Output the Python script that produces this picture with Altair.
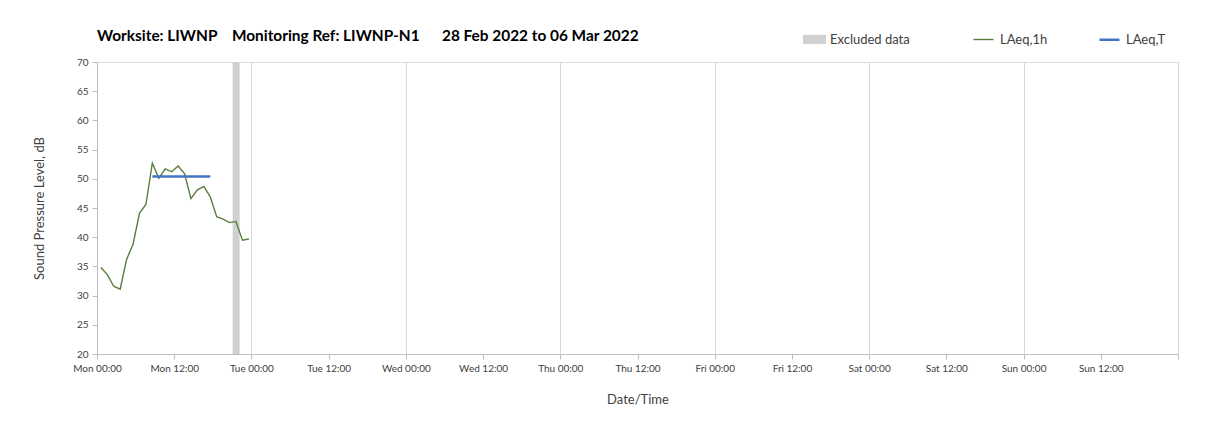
import altair as alt
import pandas as pd
from datetime import datetime, timedelta

FONT = "Lato"

# ---- data ----
hour_times = [
    "2022-02-28T00:36:00", "2022-02-28T01:36:00", "2022-02-28T02:36:00", "2022-02-28T03:36:00",
    "2022-02-28T04:36:00", "2022-02-28T05:36:00", "2022-02-28T06:36:00", "2022-02-28T07:36:00",
    "2022-02-28T08:36:00", "2022-02-28T09:36:00", "2022-02-28T10:36:00", "2022-02-28T11:36:00",
    "2022-02-28T12:36:00", "2022-02-28T13:36:00", "2022-02-28T14:36:00", "2022-02-28T15:36:00",
    "2022-02-28T16:36:00", "2022-02-28T17:36:00", "2022-02-28T18:36:00", "2022-02-28T19:36:00",
    "2022-02-28T20:36:00", "2022-02-28T21:36:00", "2022-02-28T22:36:00", "2022-02-28T23:36:00",
]
laeq_1h = [34.8, 33.6, 31.6, 31.1, 36.2, 38.8, 44.1, 45.6, 52.7, 50.1, 51.7, 51.2,
           52.2, 50.9, 46.6, 48.1, 48.7, 46.9, 43.5, 43.1, 42.5, 42.7, 39.5, 39.7]
laeq_t_times = ["2022-02-28T08:36:00", "2022-02-28T17:36:00"]
laeq_t = [50.4, 50.4]
excluded_start = ["2022-02-28T21:05:00"]
excluded_end = ["2022-02-28T22:10:00"]
band_series = ["Excluded data"]
band_colors = ["#D0D0D0"]
line_series = ["LAeq,1h", "LAeq,T"]
line_colors = ["#5B7E3C", "#4472C4"]
line_widths = [1.4, 2.5]
y_ticks = [20, 25, 30, 35, 40, 45, 50, 55, 60, 65, 70]
title_text = ("Worksite: LIWNP\u00a0\u00a0\u00a0\u00a0Monitoring Ref: LIWNP-N1"
              "\u00a0\u00a0\u00a0\u00a0\u00a0\u00a028 Feb 2022 to 06 Mar 2022")

df_1h = pd.DataFrame({"time": hour_times, "level": laeq_1h, "series": "LAeq,1h"})
df_t = pd.DataFrame({"time": laeq_t_times, "level": laeq_t, "series": "LAeq,T"})
df_ex = pd.DataFrame({"start": excluded_start, "end": excluded_end, "series": band_series})

start = datetime(2022, 2, 28)
tick_vals = []
for i in range(15):
    d = start + timedelta(hours=12 * i)
    tick_vals.append(alt.DateTime(year=d.year, month=d.month, date=d.day, hours=d.hour))

x_scale = alt.Scale(domain=[alt.DateTime(year=2022, month=2, date=28, hours=0),
                            alt.DateTime(year=2022, month=3, date=7, hours=0)])
y_scale = alt.Scale(domain=[20, 70], nice=False)

x_axis = alt.Axis(
    values=tick_vals,
    labelExpr="timeFormat(datum.value, '%d') == '07' ? '' : timeFormat(datum.value, '%a %H:%M')",
    title="Date/Time", titleFont=FONT, titleFontSize=13, titleFontWeight="normal",
    titleColor="#404040", titlePadding=20,
    labelFont=FONT, labelFontSize=10, labelColor="#404040", labelPadding=4,
    labelFlush=False, labelOverlap=False,
    domainColor="#BFBFBF", tickColor="#BFBFBF", tickSize=5,
    gridColor="#D9D9D9",
    gridOpacity={"condition": {"test": "hours(datum.value) == 0", "value": 1}, "value": 0},
)
y_axis = alt.Axis(
    values=y_ticks, title="Sound Pressure Level, dB",
    titleFont=FONT, titleFontSize=13, titleFontWeight="normal", titleColor="#404040",
    titlePadding=30,
    labelFont=FONT, labelFontSize=10, labelColor="#404040", labelPadding=4,
    domainColor="#BFBFBF", tickColor="#BFBFBF", tickSize=5, gridColor="#D9D9D9",
)

band_legend = alt.Legend(
    title=None, orient="none", direction="horizontal",
    legendX=706, legendY=-34,
    labelFont=FONT, labelFontSize=13, labelColor="#404040",
    labelOffset=4, symbolSize=529, symbolType="M-1,-0.4H1V0.4H-1Z",
    symbolStrokeWidth=0,
)
line_legend = alt.Legend(
    title=None, orient="none", direction="horizontal", columns=2,
    legendX=875, legendY=-34,
    labelFont=FONT, labelFontSize=13, labelColor="#404040",
    columnPadding=46, labelOffset=5, symbolSize=400, symbolType="stroke",
)

fill = alt.Fill("series:N", scale=alt.Scale(domain=band_series, range=band_colors),
                legend=band_legend)
stroke = alt.Stroke("series:N", scale=alt.Scale(domain=line_series, range=line_colors),
                    legend=line_legend)
swidth = alt.StrokeWidth("series:N", scale=alt.Scale(domain=line_series, range=line_widths),
                         legend=line_legend)

band = alt.Chart(df_ex).mark_rect(opacity=1).encode(
    x=alt.X("start:T", scale=x_scale, axis=x_axis),
    x2="end:T",
    y=alt.Y(datum=20, type="quantitative", scale=y_scale, axis=y_axis),
    y2=alt.datum(70),
    fill=fill,
)
line_1h = alt.Chart(df_1h).mark_line().encode(
    x=alt.X("time:T", scale=x_scale, axis=x_axis),
    y=alt.Y("level:Q", scale=y_scale, axis=y_axis),
    stroke=stroke, strokeWidth=swidth,
)
line_t = alt.Chart(df_t).mark_line().encode(
    x=alt.X("time:T", scale=x_scale, axis=x_axis),
    y=alt.Y("level:Q", scale=y_scale, axis=y_axis),
    stroke=stroke, strokeWidth=swidth,
)

chart = alt.layer(band, line_1h, line_t).properties(
    width=1081, height=292,
    autosize=alt.AutoSizeParams(type="none"),
    padding={"left": 89, "top": 54, "right": 38, "bottom": 60},
    title=alt.TitleParams(text=title_text, anchor="start", frame="group", font=FONT,
                          fontSize=15.4, fontWeight="bold", color="#000000", offset=-16),
).configure_view(strokeOpacity=0).configure(background="white")

chart.save("out.html", embed_options={"renderer": "svg", "actions": False})
